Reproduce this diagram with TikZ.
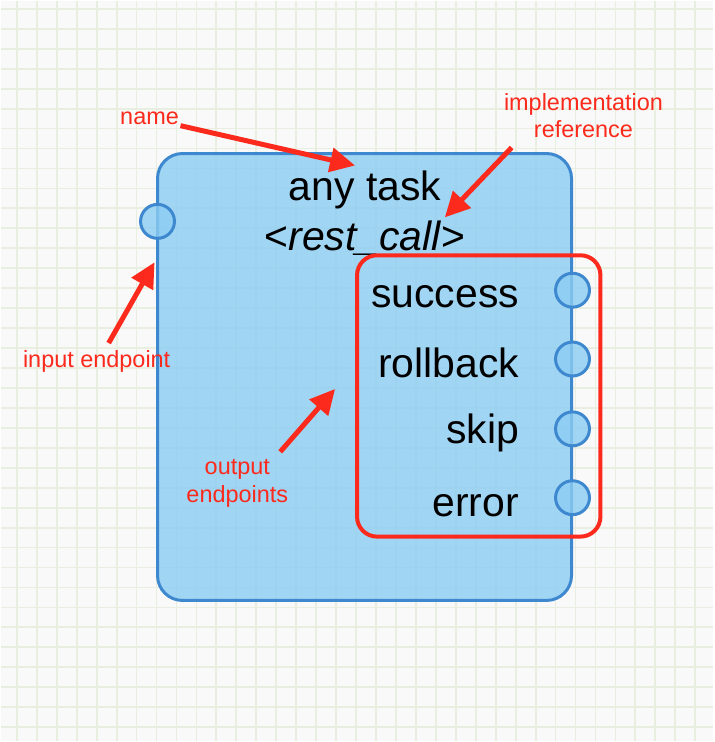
\documentclass[tikz,border=0pt]{standalone}
\usepackage{fontspec}
\setmainfont{Liberation Sans}
\usetikzlibrary{positioning,arrows.meta}
\definecolor{paper}{HTML}{F9F9F9}
\definecolor{gridcol}{HTML}{E8EFE0}
\definecolor{taskfill}{HTML}{8CCDF3}
\definecolor{taskline}{HTML}{3D88CF}
\definecolor{notered}{HTML}{FC2A1C}
\tikzset{
  gridline/.style={gridcol, line width=1.8pt},
  task/.style={draw=taskline, line width=3pt, fill=taskfill, fill opacity=0.8,
    rounded corners=25pt, minimum width=415pt, minimum height=448pt},
  port/.style={circle, draw=taskline, line width=3pt, fill=taskfill, fill opacity=0.8,
    minimum size=34pt, inner sep=0pt},
  bigtext/.style={font=\fontsize{41}{49}\selectfont, inner sep=0pt},
  outlabel/.style={bigtext, text height=30pt, text depth=8.6pt},
  frame/.style={draw=notered, line width=4pt, rounded corners=20pt,
    minimum width=244pt, minimum height=282pt},
  note/.style={text=notered, font=\fontsize{23.5}{28}\selectfont, align=center, inner sep=0pt},
  notearrow/.style={draw=notered, line width=5pt, -{Triangle[length=25pt,width=24pt]}}
}
\begin{document}
\begin{tikzpicture}[x=1pt, y=-1pt]
      % Background
      \fill[paper] (0,0) rectangle (714,742);
      \foreach \x in {16,36,...,696} \draw[gridline] (\x,0) -- (\x,742);
      \foreach \y in {8,28,...,728} \draw[gridline] (0,\y) -- (714,\y);
      \useasboundingbox (0,0) rectangle (714,742);
      % Define nodes
      \node[task] (task) at (364.5,377) {};
      \node[bigtext, anchor=base] (title) at (365,200) {any task};
      \node[bigtext, anchor=base] (impl) at (365,250) {\textless\textit{rest\_call}\textgreater};
      \node[port] (in) at (157,221) {};
      \node[port] (sp) at (573,290) {};
      \node[port, below=32pt of sp] (rp) {};
      \node[port, below=33pt of rp] (kp) {};
      \node[port, below=32pt of kp] (ep) {};
      \node[outlabel, left=35pt of sp, yshift=-7pt] (success) {success};
      \node[outlabel, left=35pt of rp, yshift=-8pt] (rollback) {rollback};
      \node[outlabel, left=35pt of kp, yshift=-4pt] (skip) {skip};
      \node[outlabel, left=35pt of ep, yshift=-8pt] (error) {error};
      \node[frame] (outputs) at (479,396) {};
      % Notes
      \node[note] (namenote) at (149,118) {name};
      \node[note] (implnote) at (584,115) {implementation\\reference};
      \node[note] (innote) at (96,361) {input endpoint};
      \node[note] (outnote) at (237,484) {output\\endpoints};
      \coordinate (nametip) at (355,165);
      \coordinate (impltail) at (512,147);
      \coordinate (impltip) at (445,217);
      \coordinate (intail) at (108,343);
      \coordinate (intip) at (154,262);
      \coordinate (outtail) at (280,452);
      \coordinate (outtip) at (335,389);
      % Connect nodes
      \draw[notearrow, shorten <=2pt] (namenote) -- (nametip);
      \draw[notearrow] (impltail) -- (impltip);
      \draw[notearrow] (intail) -- (intip);
      \draw[notearrow] (outtail) -- (outtip);
\end{tikzpicture}
\end{document}
